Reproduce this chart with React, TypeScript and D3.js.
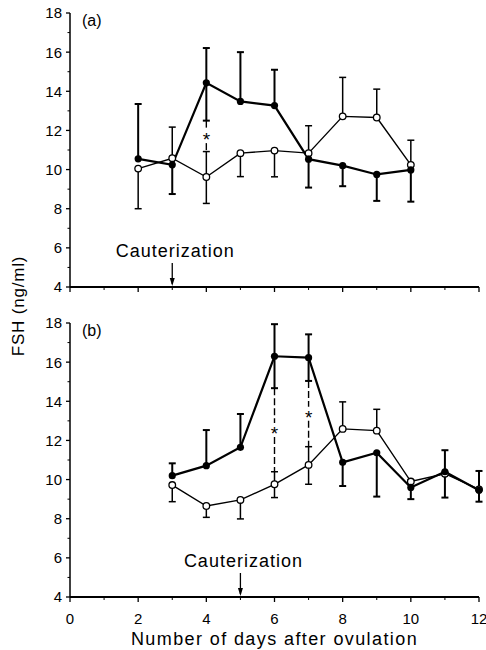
import * as d3 from 'd3';
import React from 'react';

// panel (a): days 2-10
const daysA = [2, 3, 4, 5, 6, 7, 8, 9, 10];
const filledA = [10.55, 10.24, 14.43, 13.48, 13.27, 10.53, 10.2, 9.75, 9.98];
const openA = [10.05, 10.58, 9.62, 10.84, 10.97, 10.84, 12.72, 12.66, 10.24];
const filledHiA = [13.35, null, 16.21, 16.0, 15.1, null, null, null, null];
const filledLoA = [null, 8.75, 12.5, null, null, 9.08, 9.15, 8.4, 8.36];
const openHiA = [null, 12.17, 10.92, null, null, 12.24, 14.71, 14.11, 11.5];
const openLoA = [8.0, null, 8.27, 9.64, 9.63, null, null, null, null];
const starDaysA = [4];

// panel (b): days 3-12
const daysB = [3, 4, 5, 6, 7, 8, 9, 10, 11, 12];
const filledB = [10.2, 10.71, 11.65, 16.3, 16.23, 10.88, 11.37, 9.6, 10.4, 9.45];
const openB = [9.72, 8.65, 8.96, 9.76, 10.75, 12.59, 12.5, 9.9, 10.3, 9.5];
const filledHiB = [10.83, 12.53, 13.35, 17.94, 17.42, null, null, null, 11.5, 10.44];
const filledLoB = [null, null, null, 14.67, 15.04, 9.67, 9.13, 9.0, 9.08, 8.87];
const openHiB = [null, null, null, 10.4, 11.68, 13.97, 13.59, 9.98, null, null];
const openLoB = [8.87, 8.07, 7.99, 9.08, 9.76, null, null, null, null, null];
const starDaysB = [6, 7];

const yTicks = [4, 6, 8, 10, 12, 14, 16, 18];
const xTicks = [0, 2, 4, 6, 8, 10, 12];

const FONT = '"Liberation Sans", Arial, Helvetica, sans-serif';

const x = d3.scaleLinear().domain([0, 12]).range([70, 479]);

type PanelProps = {
  label: string;
  days: number[];
  filled: number[];
  open: number[];
  filledHi: (number | null)[];
  filledLo: (number | null)[];
  openHi: (number | null)[];
  openLo: (number | null)[];
  starDays: number[];
  cautDay: number;
  top: number;
  bottom: number;
  showXLabels: boolean;
};

function Panel(p: PanelProps) {
  const y = d3.scaleLinear().domain([4, 18]).range([p.bottom, p.top]);
  const line = d3.line<number>()
    .x((d, i) => x(p.days[i]))
    .y((d) => y(d));

  const bar = (day: number, from: number, to: number | null, w: number, key: string) => {
    if (to == null) return null;
    const cx = x(day);
    return (
      <g key={key} stroke="#000" strokeWidth={w}>
        <line x1={cx} x2={cx} y1={y(from)} y2={y(to)} />
        <line x1={cx - 3.5} x2={cx + 3.5} y1={y(to)} y2={y(to)} />
      </g>
    );
  };

  const minor = d3.range(5, 18, 2);
  const xMinor = d3.range(1, 12, 2);
  const ax = x(0);

  return (
    <g>
      {/* y axis */}
      <line x1={ax} x2={ax} y1={y(18)} y2={y(4)} stroke="#000" strokeWidth={1.5} />
      {yTicks.map((t) => (
        <g key={'yt' + t}>
          <line x1={ax - 4} x2={ax} y1={y(t)} y2={y(t)} stroke="#000" strokeWidth={1.3} />
          <text x={ax - 8} y={y(t)} dy="0.36em" textAnchor="end" fontSize={15} fontFamily={FONT}>{t}</text>
        </g>
      ))}
      {minor.map((t) => (
        <line key={'ym' + t} x1={ax - 2.5} x2={ax} y1={y(t)} y2={y(t)} stroke="#000" strokeWidth={1} />
      ))}
      {/* x axis */}
      <line x1={ax} x2={x(12)} y1={y(4)} y2={y(4)} stroke="#000" strokeWidth={1.8} />
      {xTicks.map((t) => (
        <g key={'xt' + t}>
          <line x1={x(t)} x2={x(t)} y1={y(4)} y2={y(4) + 5} stroke="#000" strokeWidth={1.3} />
          {p.showXLabels && (
            <text x={x(t)} y={y(4) + 27} textAnchor="middle" fontSize={15} fontFamily={FONT}>{t}</text>
          )}
        </g>
      ))}
      {xMinor.map((t) => (
        <line key={'xm' + t} x1={x(t)} x2={x(t)} y1={y(4)} y2={y(4) + 3} stroke="#000" strokeWidth={1} />
      ))}

      <text x={ax + 12} y={p.top + 13} fontSize={16} fontFamily={FONT}>{p.label}</text>

      {/* cauterization */}
      <text x={x(p.cautDay) + 3} y={y(4) - 30} textAnchor="middle" fontSize={18} letterSpacing={1} fontFamily={FONT}>Cauterization</text>
      <line x1={x(p.cautDay)} x2={x(p.cautDay)} y1={y(4) - 24} y2={y(4) - 3} stroke="#000" strokeWidth={1.3} />
      <path d={`M${x(p.cautDay) - 2.5},${y(4) - 9} L${x(p.cautDay) + 2.5},${y(4) - 9} L${x(p.cautDay)},${y(4) - 1} Z`} fill="#000" />

      {/* series lines */}
      <path d={line(p.filled) || ''} fill="none" stroke="#000" strokeWidth={2.2} />
      <path d={line(p.open) || ''} fill="none" stroke="#000" strokeWidth={1.4} />

      {/* error bars */}
      {p.days.map((d, i) => (
        <g key={'eb' + d}>
          {bar(d, p.filled[i], p.filledHi[i], 2, 'fh')}
          {bar(d, p.filled[i], p.filledLo[i], 2, 'fl')}
          {bar(d, p.open[i], p.openHi[i], 1.5, 'oh')}
          {bar(d, p.open[i], p.openLo[i], 1.5, 'ol')}
        </g>
      ))}

      {/* significance markers */}
      {p.starDays.map((d) => {
        const i = p.days.indexOf(d);
        const a = p.filledLo[i] as number;
        const b = p.openHi[i] as number;
        const mid = (a + b) / 2;
        const cx = x(d);
        return (
          <g key={'st' + d}>
            <line x1={cx} x2={cx} y1={y(a)} y2={y(mid) - 7} stroke="#000" strokeWidth={1.4} strokeDasharray="7,3" />
            <line x1={cx} x2={cx} y1={y(mid) + 7} y2={y(b)} stroke="#000" strokeWidth={1.4} strokeDasharray="7,3" />
            <text x={cx} y={y(mid) + 10} textAnchor="middle" fontSize={19} fontFamily={FONT}>*</text>
          </g>
        );
      })}

      {/* markers */}
      {p.open.map((v, i) => (
        <circle key={'o' + i} cx={x(p.days[i])} cy={y(v)} r={3.3} fill="#fff" stroke="#000" strokeWidth={1.3} />
      ))}
      {p.filled.map((v, i) => (
        <circle key={'f' + i} cx={x(p.days[i])} cy={y(v)} r={3.6} fill="#000" />
      ))}
    </g>
  );
}

export default function App() {
  return (
    <svg width={486} height={650} style={{ position: 'absolute', left: 0, top: 0, background: '#fff' }}>
      <rect width={486} height={650} fill="#fff" />
      <Panel label="(a)" days={daysA} filled={filledA} open={openA} filledHi={filledHiA} filledLo={filledLoA}
        openHi={openHiA} openLo={openLoA} starDays={starDaysA} cautDay={3} top={13} bottom={287} showXLabels={false} />
      <Panel label="(b)" days={daysB} filled={filledB} open={openB} filledHi={filledHiB} filledLo={filledLoB}
        openHi={openHiB} openLo={openLoB} starDays={starDaysB} cautDay={5} top={323} bottom={597} showXLabels={true} />
      <text transform="translate(24,306) rotate(-90)" textAnchor="middle" fontSize={17} letterSpacing={0.8} fontFamily={FONT}>FSH (ng/ml)</text>
      <text x={x(6)} y={645} textAnchor="middle" fontSize={18} letterSpacing={1.4} fontFamily={FONT}>Number of days after ovulation</text>
    </svg>
  );
}
